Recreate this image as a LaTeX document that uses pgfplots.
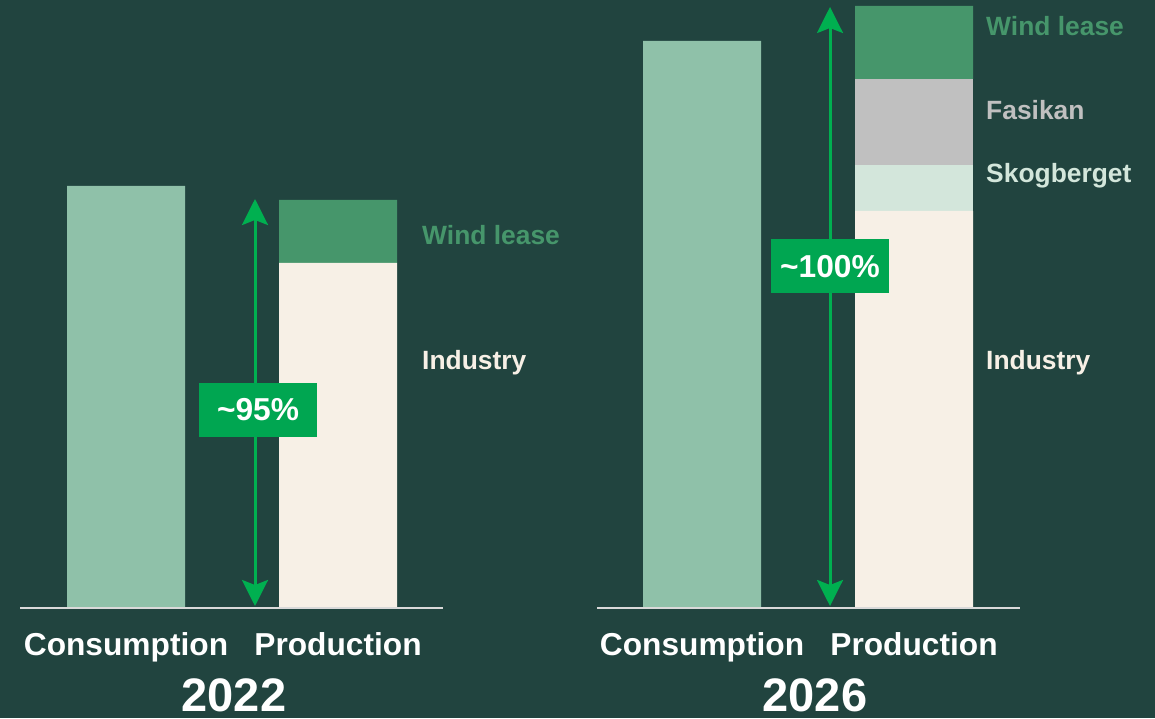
\documentclass[border=0pt]{standalone}
\usepackage{pgfplots}
\pgfplotsset{compat=1.18}
\usepackage{fontspec}
\setmainfont{Liberation Sans}
\usetikzlibrary{arrows.meta}
\definecolor{bg}{HTML}{21443F}
\definecolor{cons}{HTML}{8FC1A9}
\definecolor{wind}{HTML}{46966B}
\definecolor{indu}{HTML}{F7F0E6}
\definecolor{fasi}{HTML}{C0C0C0}
\definecolor{skog}{HTML}{D3E6DB}
\definecolor{arr}{HTML}{00B050}
\definecolor{box}{HTML}{00A651}
\definecolor{base}{HTML}{D9D9D9}
\begin{document}
\begin{tikzpicture}
\fill[bg] (0,0) rectangle (1155pt,718pt);
\begin{axis}[
  at={(0,0)}, anchor=south west,
  scale only axis, width=1155pt, height=718pt,
  xmin=0, xmax=1155, ymin=-111, ymax=607,
  hide axis, clip=false,
  ybar stacked, bar width=118,
]
% x positions: 126 = Consumption 2022, 338 = Production 2022, 702 = Consumption 2026, 914 = Production 2026
\addplot[fill=cons, draw=none] coordinates {(126,421) (338,0) (702,566) (914,0)};
\addplot[fill=indu, draw=none] coordinates {(126,0) (338,344) (702,0) (914,396)};
\addplot[fill=skog, draw=none] coordinates {(126,0) (338,0) (702,0) (914,46)};
\addplot[fill=fasi, draw=none] coordinates {(126,0) (338,0) (702,0) (914,86)};
\addplot[fill=wind, draw=none] coordinates {(126,0) (338,63) (702,0) (914,73)};
\end{axis}
\begin{axis}[
  at={(0,0)}, anchor=south west,
  scale only axis, width=1155pt, height=718pt,
  xmin=0, xmax=1155, ymin=-111, ymax=607,
  hide axis, clip=false,
]
\addplot[base, line width=2pt, forget plot] coordinates {(20,-1) (443,-1)};
\addplot[base, line width=2pt, forget plot] coordinates {(597,-1) (1020,-1)};
\addplot[arr, line width=3pt, {Stealth[length=26pt,width=26pt,inset=5pt]}-{Stealth[length=26pt,width=26pt,inset=5pt]}] coordinates {(255,1) (255,408)};
\addplot[arr, line width=3pt, {Stealth[length=26pt,width=26pt,inset=5pt]}-{Stealth[length=26pt,width=26pt,inset=5pt]}] coordinates {(830,1) (830,600)};
\node[fill=box, text=white, font=\fontsize{31.7}{36}\selectfont\bfseries, minimum width=118pt, minimum height=54pt, inner sep=0pt] at (axis cs:258,197) {\textasciitilde95\%};
\node[fill=box, text=white, font=\fontsize{31.7}{36}\selectfont\bfseries, minimum width=118pt, minimum height=54pt, inner sep=0pt] at (axis cs:830,340.5) {\textasciitilde100\%};
% segment labels
\tikzset{seg/.style={anchor=base west, inner sep=0pt, font=\fontsize{26.4}{30}\selectfont\bfseries}}
\node[seg, text=wind] at (axis cs:422,362) {Wind lease};
\node[seg, text=indu] at (axis cs:422,237) {Industry};
\node[seg, text=wind] at (axis cs:986,571.5) {Wind lease};
\node[seg, text=fasi] at (axis cs:986,487.5) {Fasikan};
\node[seg, text=skog] at (axis cs:986,424) {Skogberget};
\node[seg, text=indu] at (axis cs:986,237) {Industry};
% category labels
\tikzset{cat/.style={anchor=base, text=white, inner sep=0pt, font=\fontsize{31.7}{36}\selectfont\bfseries}}
\node[cat] at (axis cs:126,-48) {Consumption};
\node[cat] at (axis cs:338,-48) {Production};
\node[cat] at (axis cs:702,-48) {Consumption};
\node[cat] at (axis cs:914,-48) {Production};
\tikzset{yr/.style={anchor=base, text=white, inner sep=0pt, font=\fontsize{47}{52}\selectfont\bfseries}}
\node[yr] at (axis cs:234,-104) {2022};
\node[yr] at (axis cs:815,-104) {2026};
\end{axis}
\end{tikzpicture}
\end{document}
